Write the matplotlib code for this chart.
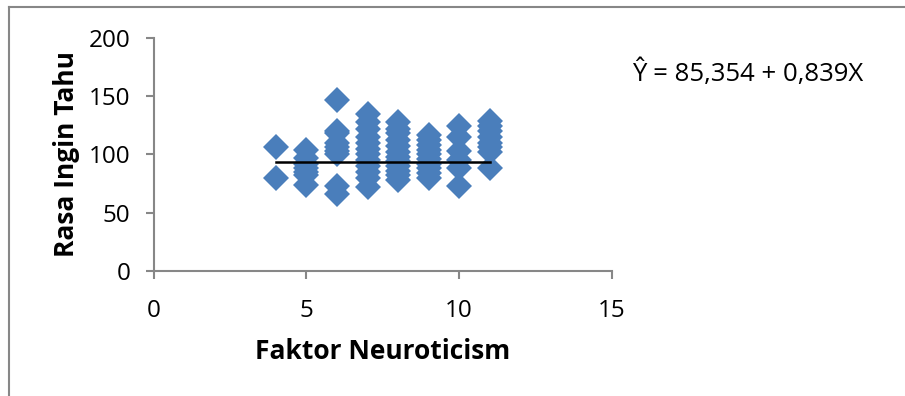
import matplotlib.pyplot as plt
from matplotlib.lines import Line2D

# Faktor Neuroticism (x) vs Rasa Ingin Tahu (y)
x4 = [4, 4]
y4 = [106, 80]
x5 = [5] * 7
y5 = [104, 97, 92, 88, 85, 82, 74]
x6 = [6] * 9
y6 = [147, 120, 118, 110, 106, 103, 100, 73, 66]
x7 = [7] * 12
y7 = [135, 128, 122, 115, 110, 105, 100, 95, 90, 85, 80, 72]
x8 = [8] * 12
y8 = [128, 122, 118, 112, 107, 102, 98, 94, 90, 86, 82, 78]
x9 = [9] * 10
y9 = [117, 112, 108, 104, 100, 96, 92, 88, 84, 80]
x10 = [10] * 6
y10 = [124, 115, 103, 95, 88, 73]
x11 = [11] * 8
y11 = [129, 124, 120, 115, 110, 106, 102, 88]

xs = x4 + x5 + x6 + x7 + x8 + x9 + x10 + x11
ys = y4 + y5 + y6 + y7 + y8 + y9 + y10 + y11

# regression line as drawn
line_x = [4, 11]
line_y = [93.2, 93.2]

equation = "\u0176 = 85,354 + 0,839X"

plt.rcParams['font.family'] = ['Open Sans', 'DejaVu Sans']

fig = plt.figure(figsize=(9.05, 3.96), dpi=100)
ax = fig.add_axes([0.170, 0.316, 0.506, 0.588])

blue = '#4a7ebb'
gray = '#878787'

ax.plot(xs, ys, linestyle='none', marker='D', markersize=13.5,
        color=blue, markeredgewidth=0)
ax.plot(line_x, line_y, color='black', linewidth=1.8)

ax.set_xlim(0, 15)
ax.set_ylim(0, 200)
ax.set_xticks([0, 5, 10, 15])
ax.set_yticks([0, 50, 100, 150, 200])

for side in ['top', 'right']:
    ax.spines[side].set_visible(False)
for side in ['left', 'bottom']:
    ax.spines[side].set_color(gray)
    ax.spines[side].set_linewidth(1.5)

ax.tick_params(axis='both', direction='out', length=6, width=1.5,
               color=gray, labelsize=17.5)
ax.tick_params(axis='x', pad=14)
ax.tick_params(axis='y', pad=11)

ax.set_xlabel('Faktor Neuroticism', fontsize=19, fontweight='bold', labelpad=11)
ax.set_ylabel('Rasa Ingin Tahu', fontsize=19, fontweight='bold', labelpad=6)

fig.text(632 / 905, 1 - 73 / 396, equation, fontsize=18.5, va='center', ha='left')

# chart area border (top and left edges visible)
fig.add_artist(Line2D([9 / 905, 9 / 905], [0, 1 - 7 / 396],
                      transform=fig.transFigure, color=gray, linewidth=1.5))
fig.add_artist(Line2D([9 / 905, 1], [1 - 7 / 396, 1 - 7 / 396],
                      transform=fig.transFigure, color=gray, linewidth=1.5))

fig.savefig('out.png', dpi=100)
